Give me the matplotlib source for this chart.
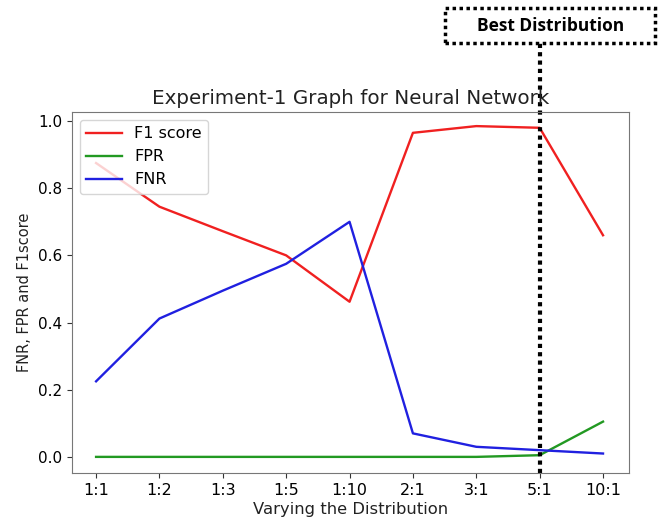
import matplotlib
matplotlib.use("Agg")
import matplotlib.pyplot as plt
from matplotlib.patches import Rectangle
import matplotlib.transforms as mtransforms

categories = ["1:1", "1:2", "1:3", "1:5", "1:10", "2:1", "3:1", "5:1", "10:1"]
f1_score = [0.875, 0.745, 0.672, 0.600, 0.462, 0.965, 0.985, 0.980, 0.660]
fpr = [0.0, 0.0, 0.0, 0.0, 0.0, 0.0, 0.0, 0.005, 0.105]
fnr = [0.225, 0.412, 0.495, 0.575, 0.700, 0.070, 0.030, 0.020, 0.010]
best_label = "Best Distribution"
best_idx = 7

fig = plt.figure(figsize=(6.58, 5.29), dpi=100)
ax = fig.add_axes([72/658, 1-473/529, (629-72)/658, (473-112)/529])
x = list(range(len(categories)))
ax.plot(x, f1_score, color="#f02020", lw=1.7, label="F1 score")
ax.plot(x, fpr, color="#229922", lw=1.7, label="FPR")
ax.plot(x, fnr, color="#2020e0", lw=1.7, label="FNR")
ax.set_xticks(x)
ax.set_xticklabels(categories)
ax.set_xlim(-0.38, 8.41)
ax.set_ylim(-0.048, 1.027)
ax.set_yticks([0.0, 0.2, 0.4, 0.6, 0.8, 1.0])
ax.tick_params(axis="x", labelsize=11.5, color="#333333")
ax.tick_params(axis="y", labelsize=11, color="#333333")
ax.set_title("Experiment-1 Graph for Neural Network", fontsize=14.3, color="#222222", pad=6)
ax.set_xlabel("Varying the Distribution", fontsize=11.8, color="#222222", labelpad=3)
ax.set_ylabel("FNR, FPR and F1score", fontsize=10.5, color="#222222")
for s in ax.spines.values():
    s.set_color("#777777")
leg = ax.legend(loc="upper left", fontsize=11.5, framealpha=0.8, borderaxespad=0.5,
                handlelength=2.2)

trans = mtransforms.blended_transform_factory(ax.transData, ax.transAxes)
ax.plot([best_idx, best_idx], [0.0, (473-43)/361], transform=trans, color="black",
        lw=3, ls=(0, (1, 1)), clip_on=False)

fig.patches.append(Rectangle((445/658, 1-43/529), (655-445)/658, 35/529,
                             transform=fig.transFigure, fill=False, ec="black",
                             lw=2.5, ls=(0, (1, 1))))
fig.text(551/658, 1-26/529, best_label, ha="center", va="center",
         fontsize=12.5, fontweight="bold", family=["Open Sans", "DejaVu Sans"])

fig.savefig("out.png", dpi=100)
